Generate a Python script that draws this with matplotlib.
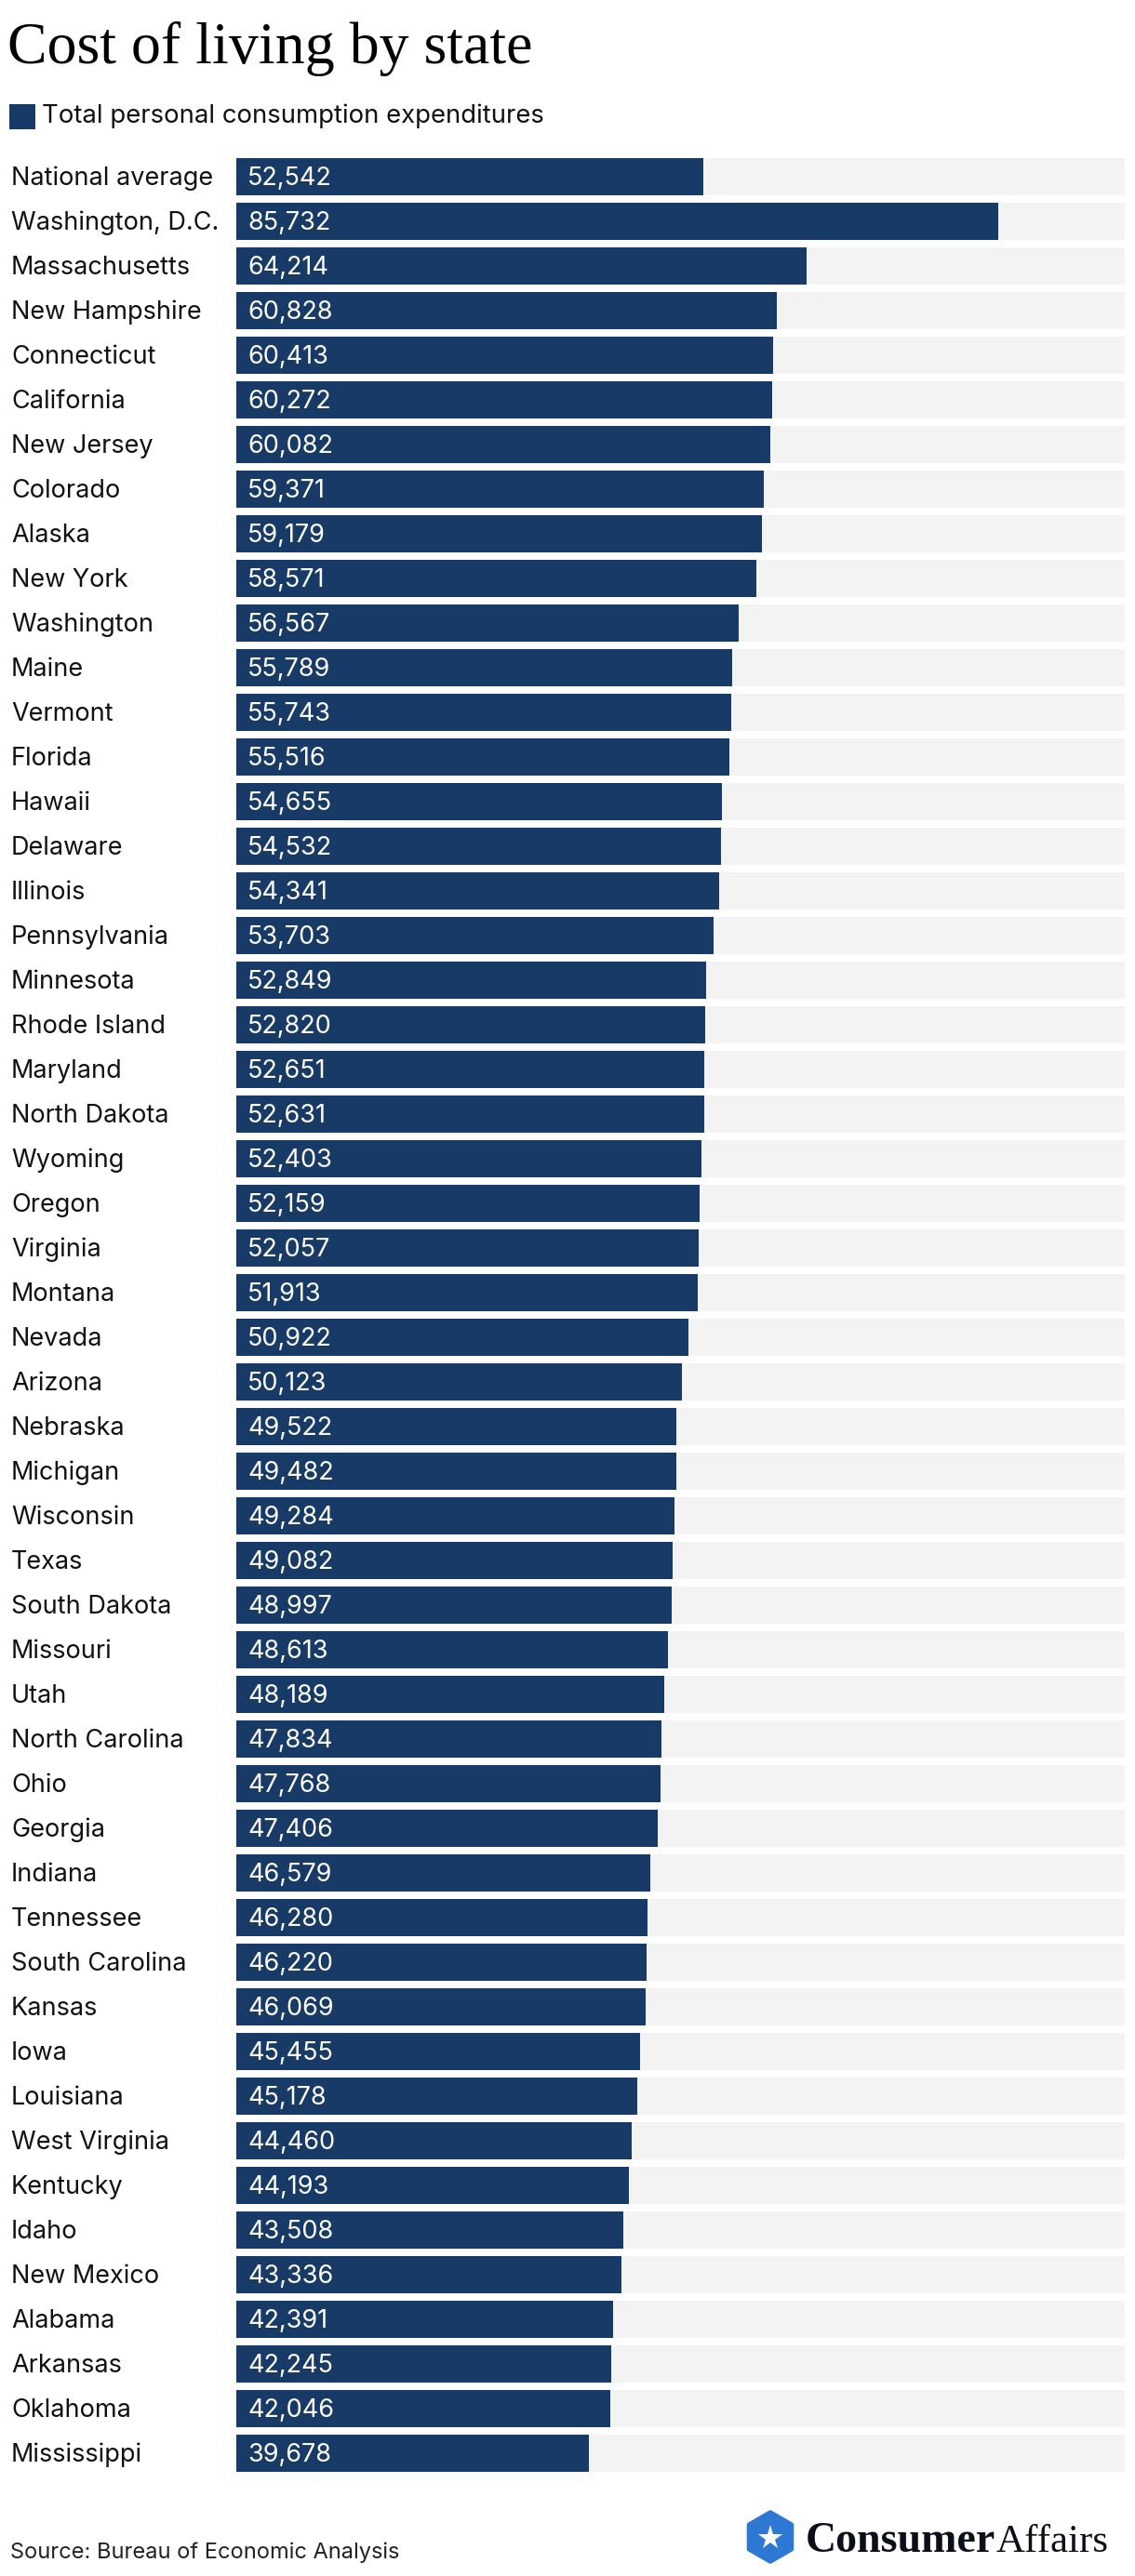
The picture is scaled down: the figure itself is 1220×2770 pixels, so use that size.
import matplotlib
matplotlib.use("Agg")
import matplotlib.pyplot as plt
from matplotlib.patches import RegularPolygon, Rectangle
from matplotlib.transforms import blended_transform_factory

# ---------------- data ----------------
states = [
    "National average", "Washington, D.C.", "Massachusetts", "New Hampshire",
    "Connecticut", "California", "New Jersey", "Colorado", "Alaska", "New York",
    "Washington", "Maine", "Vermont", "Florida", "Hawaii", "Delaware", "Illinois",
    "Pennsylvania", "Minnesota", "Rhode Island", "Maryland", "North Dakota",
    "Wyoming", "Oregon", "Virginia", "Montana", "Nevada", "Arizona", "Nebraska",
    "Michigan", "Wisconsin", "Texas", "South Dakota", "Missouri", "Utah",
    "North Carolina", "Ohio", "Georgia", "Indiana", "Tennessee", "South Carolina",
    "Kansas", "Iowa", "Louisiana", "West Virginia", "Kentucky", "Idaho",
    "New Mexico", "Alabama", "Arkansas", "Oklahoma", "Mississippi",
]
expenditures = [
    52542, 85732, 64214, 60828, 60413, 60272, 60082, 59371, 59179, 58571,
    56567, 55789, 55743, 55516, 54655, 54532, 54341, 53703, 52849, 52820,
    52651, 52631, 52403, 52159, 52057, 51913, 50922, 50123, 49522, 49482,
    49284, 49082, 48997, 48613, 48189, 47834, 47768, 47406, 46579, 46280,
    46220, 46069, 45455, 45178, 44460, 44193, 43508, 43336, 42391, 42245,
    42046, 39678,
]
axis_max = 100000
series_name = "Total personal consumption expenditures"
title = "Cost of living by state"
source = "Source: Bureau of Economic Analysis"

# ---------------- style ----------------
NAVY = "#173a67"
TRACK = "#f3f3f3"
TEXT = "#111111"
SANS = ["Inter", "DejaVu Sans"]
SERIF = ["Liberation Serif", "DejaVu Serif"]
LABEL_FS = 19.5

W, H = 1220, 2770
fig = plt.figure(figsize=(W / 100, H / 100), dpi=100)
fig.patch.set_facecolor("white")

# overlay axes in pixel coordinates for title, legend, footer
ov = fig.add_axes([0, 0, 1, 1])
ov.set_xlim(0, W)
ov.set_ylim(H, 0)
ov.axis("off")

# main bar axes
n = len(states)
pitch = 48
top = 166
left_px, right_px = 254, 1209
ax = fig.add_axes([left_px / W, 1 - (top + n * pitch) / H,
                   (right_px - left_px) / W, n * pitch / H])
ax.set_xlim(0, axis_max)
ax.set_ylim(n - 0.5, -0.5)
ax.axis("off")

ypos = list(range(n))
bh = 40 / 48
ax.barh(ypos, [axis_max] * n, height=bh, color=TRACK, linewidth=0)
ax.barh(ypos, expenditures, height=bh, color=NAVY, linewidth=0)

lab_tr = blended_transform_factory(fig.transFigure, ax.transData)
val_tr = ax.get_yaxis_transform()
for i, (s, v) in enumerate(zip(states, expenditures)):
    ax.text(12 / W, i + 0.19, s, transform=lab_tr, fontsize=LABEL_FS,
            family=SANS, color=TEXT, va="baseline", ha="left")
    ax.text(12 / (right_px - left_px), i + 0.19, f"{v:,}", transform=val_tr,
            fontsize=LABEL_FS, family=SANS, color="white", va="baseline",
            ha="left")

# title
ov.text(8, 68, title, fontsize=46, family=SERIF, color="#000000",
        va="baseline", ha="left")

# legend
ov.add_patch(Rectangle((10, 112), 28, 27, color=NAVY, linewidth=0))
ov.text(45, 132, series_name, fontsize=19.8, family=SANS, color=TEXT,
        va="baseline", ha="left")

# source
ov.text(11, 2751, source, fontsize=17, family=SANS, color="#222222",
        va="baseline", ha="left")

# logo
hexc = (828, 2728)
ov.add_patch(RegularPolygon(hexc, numVertices=6, radius=26, orientation=0,
                            facecolor="#2d78d3", edgecolor="#2d78d3",
                            linewidth=4, joinstyle="round"))
ov.plot([hexc[0]], [hexc[1] + 1], marker="*", markersize=20, color="white",
        markeredgewidth=0)
t1 = ov.text(866, 2744, "Consumer", fontsize=33, family=SERIF, weight="bold",
             color="#0a0f1a", va="baseline", ha="left")
fig.canvas.draw()
bb = t1.get_window_extent()
x_end = bb.x1
ov.text(x_end, 2744, "Affairs", fontsize=31, family=SERIF, color="#0a0f1a",
        va="baseline", ha="left")

fig.savefig("out.png", dpi=100, facecolor="white")
